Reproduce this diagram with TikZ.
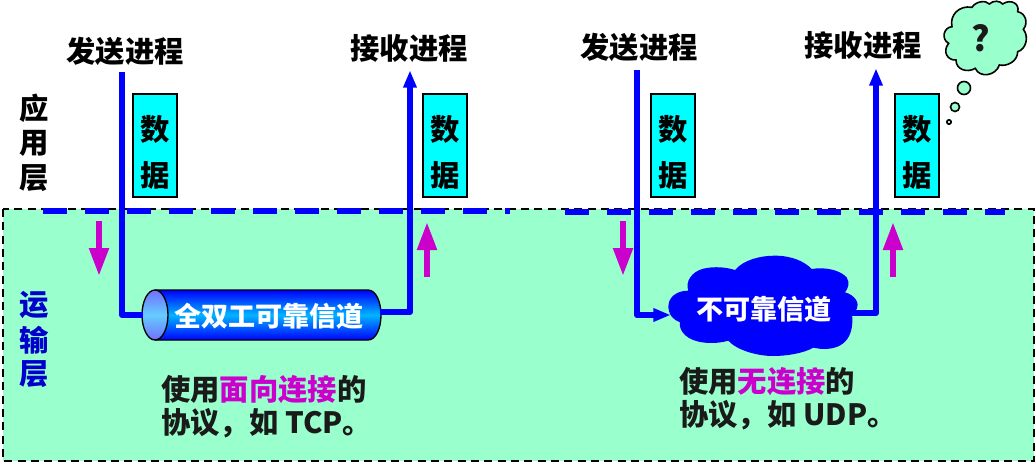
\documentclass[tikz,border=0pt]{standalone}
\usepackage{fontspec}
\setmainfont{Noto Sans CJK SC}
\usetikzlibrary{arrows.meta}

\definecolor{bandgreen}{HTML}{99FFCC}
\definecolor{boxcyan}{HTML}{00FFFF}
\definecolor{pipeblue}{HTML}{00B4FF}
\definecolor{capblue}{HTML}{7070FF}
\definecolor{capmid}{HTML}{66CCFF}
\definecolor{textdark}{HTML}{1A1A1A}
\definecolor{layerblue}{HTML}{0000CC}
\definecolor{notemag}{HTML}{CC00CC}

\tikzset{
  bigtext/.style={font=\fontsize{22}{26}\selectfont\bfseries,inner sep=0pt},
  process/.style={bigtext,text=black},
  databox/.style={draw=black,line width=1.5pt,fill=boxcyan,minimum width=33pt,minimum height=77pt,inner sep=0pt},
  dataword/.style={bigtext,text=black},
  layer/.style={bigtext},
  flow/.style={draw=blue,line width=4.5pt,line join=round},
  flowhead/.style={flow,-{Triangle[length=13pt,width=9.5pt]},shorten >=-0.5pt},
  updown/.style={draw=notemag,line width=4.5pt,-{Triangle[length=21pt,width=14pt]}},
  note/.style={bigtext,text=textdark,anchor=west},
  chantext/.style={font=\fontsize{20.3}{24}\selectfont\bfseries,text=white,inner sep=0pt}
}

\begin{document}
\begin{tikzpicture}[x=0.75pt,y=0.75pt,yscale=-1,xscale=1]
\useasboundingbox (0,0) rectangle (1036,462);

%transport layer band
\draw [fill=bandgreen,line width=1.5pt,dash pattern=on 6pt off 4pt] (3,209) rectangle (1034,461);
\draw [blue,line width=4pt,dash pattern=on 18pt off 13.5pt] (43,211) -- (510,211);
\draw [blue,line width=4pt,dash pattern=on 18pt off 13.5pt] (565,212) -- (1005,212);

% Process names
\node [process] (send1) at (125,51) {发送进程};
\node [process] (recv1) at (409,48) {接收进程};
\node [process] (send2) at (639,47) {发送进程};
\node [process] (recv2) at (863,45) {接收进程};

% Data boxes
\foreach \name/\x in {dataa/155,datab/445,datac/673,datad/917}{
  \node [databox] (\name) at (\x,145.5) {};
  \node [dataword] (\name w1) at (\x,129) {数};
  \node [dataword] (\name w2) at (\x,175) {据};
}

% Layer names
\node [layer] (app1) at (34,108) {应};
\node [layer] (app2) at (34,143) {用};
\node [layer] (app3) at (34,178) {层};
\node [layer,text=layerblue] (trans1) at (34,305) {运};
\node [layer,text=layerblue] (trans2) at (34,340) {输};
\node [layer,text=layerblue] (trans3) at (34,374) {层};

% Reliable channel
\shade [top color=blue,bottom color=blue,middle color=pipeblue] (155,290) -- (368,290) .. controls (376,290) and (381,302) .. (381,315) .. controls (381,328) and (376,340) .. (368,340) -- (155,340) -- cycle;
\draw [line width=1pt] (155,290) -- (368,290) .. controls (376,290) and (381,302) .. (381,315) .. controls (381,328) and (376,340) .. (368,340) -- (155,340);
\draw [top color=capblue,bottom color=capblue,middle color=capmid,line width=1pt] (155,315) ellipse (13 and 25);
\node [chantext] (pipe) at (269,316) {全双工可靠信道};

% Unreliable channel
\fill [blue,shift={(520,220)},x=0.25pt,y=0.25pt]
  (455,290) .. controls (440,270) and (440,235) .. (470,220) .. controls (480,214) and (495,212) .. (505,212)
  .. controls (495,185) and (515,155) .. (550,146) .. controls (585,138) and (620,142) .. (645,150)
  .. controls (670,120) and (720,107) .. (765,107) .. controls (815,107) and (855,125) .. (875,147)
  .. controls (915,140) and (960,150) .. (980,172) .. controls (990,188) and (985,205) .. (975,217)
  .. controls (1005,225) and (1020,250) .. (1010,268) -- (995,275)
  .. controls (1002,320) and (995,385) .. (915,387) .. controls (900,387) and (890,385) .. (880,383)
  .. controls (850,400) and (800,408) .. (760,408) .. controls (710,408) and (650,390) .. (625,362)
  .. controls (580,375) and (520,370) .. (495,345) .. controls (482,332) and (478,320) .. (480,307)
  .. controls (470,303) and (462,298) .. (455,290) -- cycle;
\node [chantext] (net) at (764,309) {不可靠信道};

% Flow lines
\coordinate (pipein) at (143,315);
\coordinate (pipeout) at (380,312);
\coordinate (netin) at (670,315);
\coordinate (netout) at (851,313);
\coordinate (senda) at (122,72);
\coordinate (recva) at (410,71);
\coordinate (sendb) at (637,70);
\coordinate (recvb) at (876,69);
\draw [flow] (senda) |- (pipein);
\draw [flowhead] (pipeout) -| (recva);
\draw [flowhead] (sendb) |- (netin);
\draw [flowhead] (netout) -| (recvb);

% Arrows beside the lines
\coordinate (downa) at (99,221);
\coordinate (downb) at (623,221);
\coordinate (upa) at (427,277);
\coordinate (upb) at (893,277);
\draw [updown] (downa) -- ++(0,55);
\draw [updown] (downb) -- ++(0,55);
\draw [updown] (upa) -- ++(0,-55);
\draw [updown] (upb) -- ++(0,-55);

% Notes
\node [note] (usea) at (161,389) {使用\textcolor{notemag}{面向连接}的};
\node [note] (prota) at (161,423) {协议，如 TCP。};
\node [note] (useb) at (679,381) {使用\textcolor{notemag}{无连接}的};
\node [note] (protb) at (679,415) {协议，如 UDP。};

% Thought bubble
\draw [fill=bandgreen,line width=1.2pt,shift={(936,0)},x=0.25pt,y=0.25pt]
  (48,80) .. controls (40,45) and (70,15) .. (108,22) .. controls (120,3) and (150,0) .. (160,12)
  .. controls (172,0) and (192,2) .. (200,12) .. controls (225,-5) and (252,12) .. (245,35)
  .. controls (270,40) and (277,70) .. (262,88) .. controls (280,110) and (270,148) .. (245,155)
  .. controls (245,185) and (212,200) .. (190,195) .. controls (180,228) and (130,235) .. (118,205)
  .. controls (92,220) and (60,208) .. (60,180) .. controls (35,182) and (18,155) .. (38,130)
  .. controls (15,118) and (22,82) .. (48,80) -- cycle;
\node [font=\fontsize{26}{30}\selectfont\bfseries,text=textdark,inner sep=0pt] (query) at (981,38) {?};
\draw [fill=bandgreen,line width=1.2pt] (964,88) circle (6.5);
\draw [fill=bandgreen,line width=1.2pt] (955,107) circle (4.5);
\draw [fill=bandgreen,line width=1.2pt] (949,122) circle (2.2);

\end{tikzpicture}
\end{document}
